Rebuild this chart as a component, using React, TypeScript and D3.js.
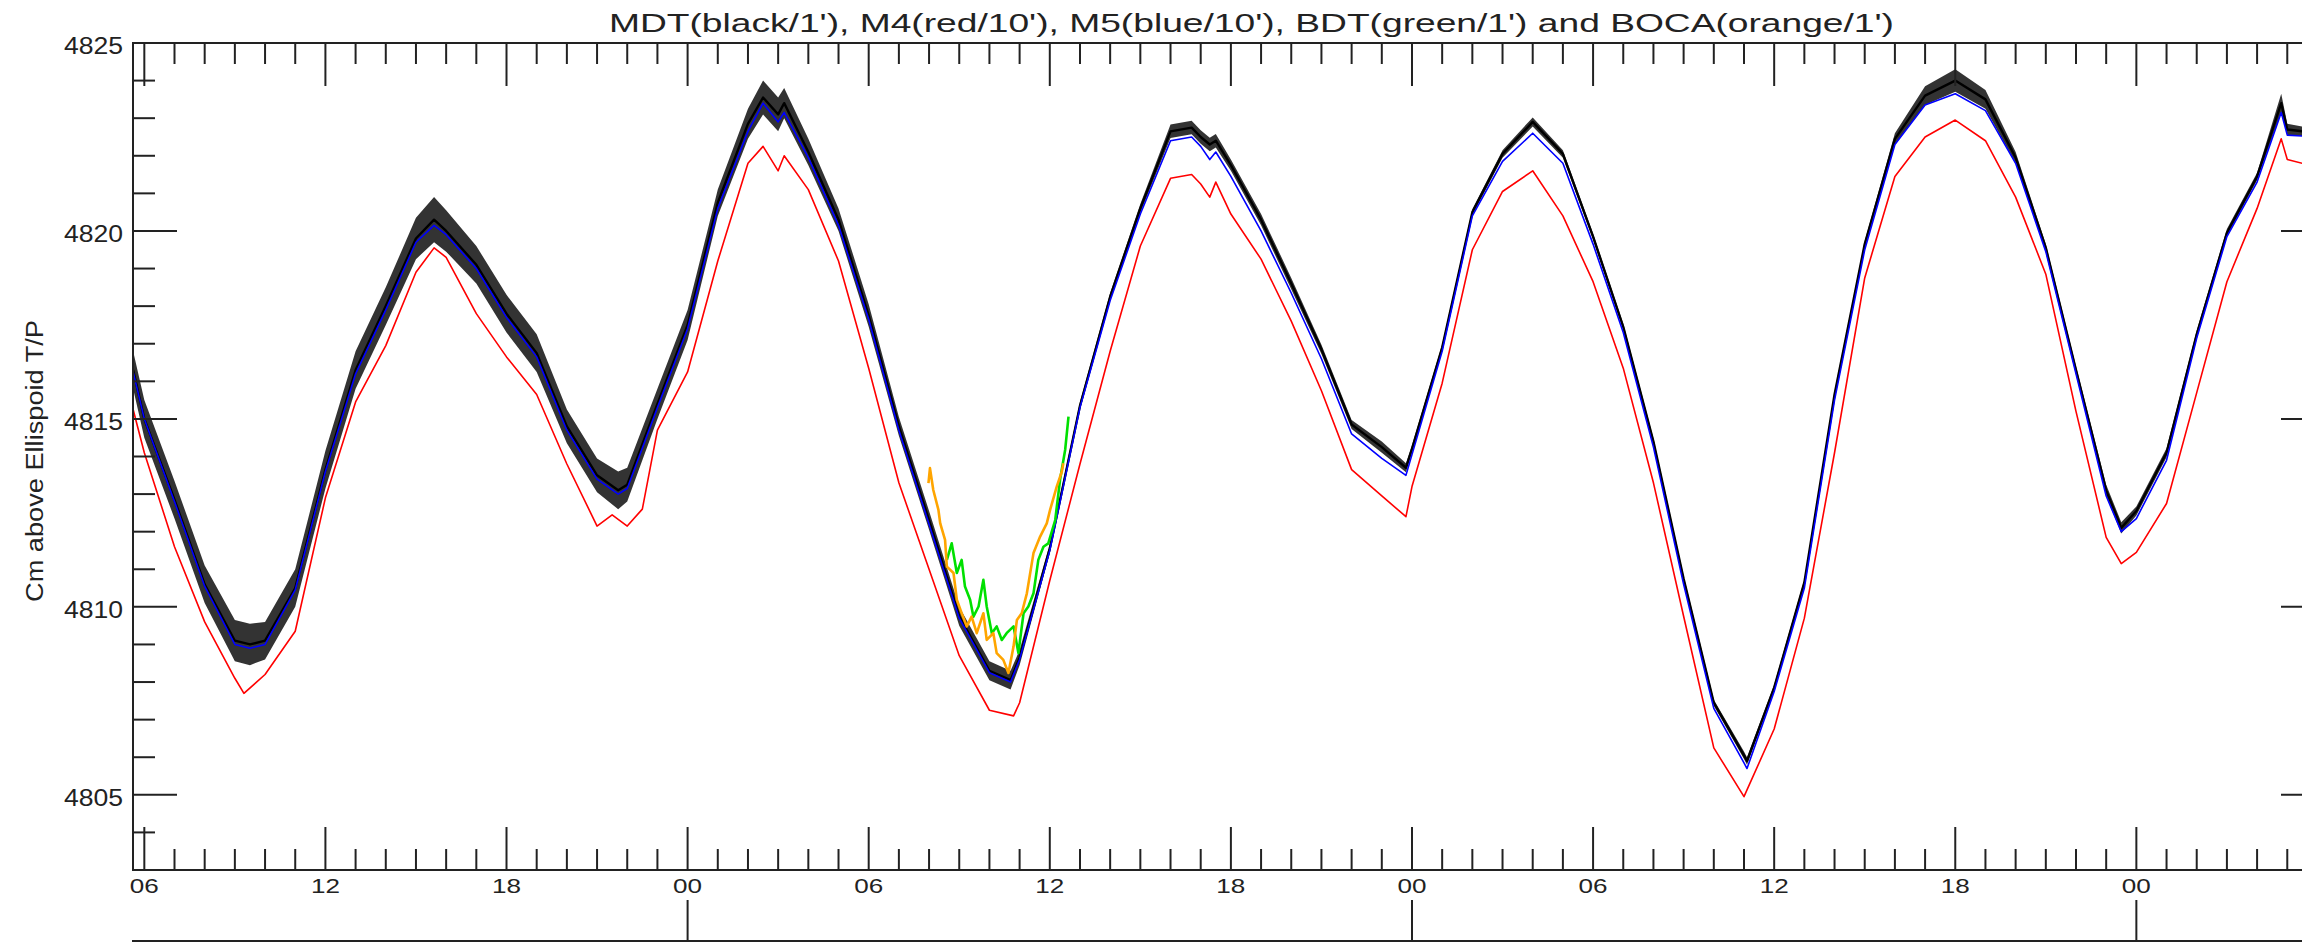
import * as d3 from "d3";

const WIDTH = 2302;
const HEIGHT = 943;
// the right frame sits just outside the picture, as in the source plot
const PLOT = { left: 133, top: 43, right: 2325, bottom: 870 };
const DAY_AXIS_Y = 941;

const TITLE = "MDT(black/1'), M4(red/10'), M5(blue/10'),  BDT(green/1') and BOCA(orange/1')";
const Y_TITLE = "Cm above Ellispoid T/P";
const Y_LABELS = [4805, 4810, 4815, 4820, 4825];
const LABELED_HOURS = [6, 12, 18, 24, 30, 36, 42, 48, 54, 60, 66, 72];

// time is in hours from 00:00 of the first day
const mdt: [number, number][] = [
  [5.63, 4816.3], [6, 4815.0], [7, 4812.85], [8, 4810.6], [9, 4809.1], [9.5, 4809.0], [10, 4809.1],
  [11, 4810.5], [12, 4813.65], [13, 4816.3], [14, 4818.0], [15, 4819.8], [15.6, 4820.3], [16, 4820.0],
  [17, 4819.1], [18, 4817.8], [19, 4816.75], [20, 4814.8], [21, 4813.5], [21.7, 4813.1], [22, 4813.25],
  [23, 4815.4], [24, 4817.5], [25, 4820.75], [26, 4822.85], [26.5, 4823.55], [27, 4823.1], [27.2, 4823.4],
  [28, 4822.1], [29, 4820.3], [30, 4817.75], [31, 4814.8], [32, 4812.3], [33, 4809.75], [34, 4808.3],
  [34.7, 4808.05], [35, 4808.65], [36, 4811.55], [37, 4815.35], [38, 4818.25], [39, 4820.6], [40, 4822.65],
  [40.7, 4822.75], [41, 4822.5], [41.3, 4822.3], [41.5, 4822.4], [42, 4821.75], [43, 4820.3], [44, 4818.6],
  [45, 4816.85], [46, 4814.85], [47, 4814.25], [47.8, 4813.7], [48, 4814.2], [49, 4816.9], [50, 4820.5],
  [51, 4822.05], [52, 4822.9], [53, 4822.05], [54, 4819.85], [55, 4817.45], [56, 4814.4], [57, 4810.75],
  [58, 4807.45], [59, 4806.05], [59.1, 4805.9], [60, 4807.85], [61, 4810.65], [62, 4815.65], [63, 4819.65],
  [64, 4822.45], [65, 4823.6], [66, 4824.0], [67, 4823.5], [68, 4821.95], [69, 4819.55], [70, 4816.3],
  [71, 4813.1], [71.5, 4812.1], [72, 4812.55], [73, 4814.1], [74, 4817.25], [75, 4819.95], [76, 4821.45],
  [76.8, 4823.4], [77, 4822.7], [78, 4822.6],
];

// half height of the 1' noise band around mdt, one value per mdt point
const mdtNoise = [
  0.5, 0.5, 0.5, 0.5, 0.55, 0.55, 0.5, 0.5, 0.5, 0.5, 0.5, 0.55, 0.6, 0.55, 0.5, 0.5, 0.5, 0.45, 0.45, 0.5,
  0.45, 0.4, 0.4, 0.35, 0.4, 0.45, 0.45, 0.4, 0.35, 0.3, 0.3, 0.25, 0.25, 0.25, 0.25, 0.25, 0.2, 0.12, 0.1,
  0.1, 0.12, 0.18, 0.18, 0.18, 0.18, 0.18, 0.15, 0.15, 0.15, 0.12, 0.12, 0.15, 0.12, 0.1, 0.08, 0.08, 0.1,
  0.12, 0.1, 0.08, 0.08, 0.08, 0.08, 0.08, 0.1, 0.1, 0.08, 0.08, 0.08, 0.08, 0.15, 0.25, 0.3, 0.25, 0.15,
  0.1, 0.1, 0.15, 0.15, 0.12, 0.12, 0.1, 0.1, 0.1, 0.25, 0.15, 0.1,
];

const m5: [number, number][] = [
  [5.63, 4816.25], [6, 4815.0], [7, 4812.8], [8, 4810.55], [9, 4809.0], [9.5, 4808.9], [10, 4809.0],
  [11, 4810.45], [12, 4813.6], [13, 4816.2], [14, 4817.9], [15, 4819.7], [15.6, 4820.15], [16, 4819.9],
  [17, 4819.0], [18, 4817.7], [19, 4816.65], [20, 4814.7], [21, 4813.4], [21.7, 4813.0], [22, 4813.15],
  [23, 4815.3], [24, 4817.4], [25, 4820.6], [26, 4822.65], [26.5, 4823.4], [27, 4822.9], [27.2, 4823.15],
  [28, 4821.95], [29, 4820.15], [30, 4817.65], [31, 4814.7], [32, 4812.2], [33, 4809.7], [34, 4808.25],
  [34.7, 4808.0], [35, 4808.6], [36, 4811.5], [37, 4815.3], [38, 4818.15], [39, 4820.45], [40, 4822.4],
  [40.7, 4822.5], [41, 4822.25], [41.3, 4821.9], [41.5, 4822.1], [42, 4821.45], [43, 4820.0], [44, 4818.35],
  [45, 4816.6], [46, 4814.6], [47, 4813.95], [47.8, 4813.5], [48, 4814.05], [49, 4816.8], [50, 4820.4],
  [51, 4821.85], [52, 4822.6], [53, 4821.8], [54, 4819.65], [55, 4817.3], [56, 4814.25], [57, 4810.6],
  [58, 4807.3], [59, 4805.85], [59.1, 4805.7], [60, 4807.75], [61, 4810.5], [62, 4815.5], [63, 4819.5],
  [64, 4822.3], [65, 4823.35], [66, 4823.65], [67, 4823.2], [68, 4821.8], [69, 4819.45], [70, 4816.2],
  [71, 4812.95], [71.5, 4812.0], [72, 4812.35], [73, 4813.9], [74, 4817.15], [75, 4819.85], [76, 4821.3],
  [76.8, 4823.15], [77, 4822.55], [78, 4822.5],
];

const m4: [number, number][] = [
  [5.63, 4815.25], [6, 4814.1], [7, 4811.6], [8, 4809.6], [9, 4808.1], [9.3, 4807.7], [10, 4808.2],
  [11, 4809.35], [12, 4812.9], [13, 4815.45], [14, 4816.95], [15, 4818.9], [15.6, 4819.55], [16, 4819.3],
  [17, 4817.8], [18, 4816.65], [19, 4815.65], [20, 4813.8], [21, 4812.15], [21.5, 4812.45], [22, 4812.15],
  [22.5, 4812.6], [23, 4814.7], [24, 4816.25], [25, 4819.2], [26, 4821.8], [26.5, 4822.25], [27, 4821.6],
  [27.2, 4822.0], [28, 4821.1], [29, 4819.2], [30, 4816.35], [31, 4813.3], [32, 4811.0], [33, 4808.7],
  [34, 4807.25], [34.8, 4807.1], [35, 4807.45], [36, 4810.7], [37, 4813.8], [38, 4816.8], [39, 4819.6],
  [40, 4821.4], [40.7, 4821.5], [41, 4821.25], [41.3, 4820.9], [41.5, 4821.3], [42, 4820.45], [43, 4819.25],
  [44, 4817.6], [45, 4815.75], [46, 4813.65], [47, 4812.95], [47.8, 4812.4], [48, 4813.2], [49, 4815.95],
  [50, 4819.5], [51, 4821.05], [52, 4821.6], [53, 4820.4], [54, 4818.65], [55, 4816.35], [56, 4813.3],
  [57, 4809.75], [58, 4806.25], [59, 4804.95], [60, 4806.75], [61, 4809.7], [62, 4814.1], [63, 4818.75],
  [64, 4821.45], [65, 4822.5], [66, 4822.95], [67, 4822.4], [68, 4820.9], [69, 4818.85], [70, 4815.2],
  [71, 4811.85], [71.5, 4811.15], [72, 4811.45], [73, 4812.75], [74, 4815.7], [75, 4818.65], [76, 4820.6],
  [76.8, 4822.45], [77, 4821.9], [78, 4821.7],
];

const bdt: [number, number][] = [
  [32.59, 4811.25], [32.75, 4811.69], [32.92, 4810.9], [33.08, 4811.25], [33.19, 4810.54], [33.36, 4810.19],
  [33.47, 4809.74], [33.64, 4810.01], [33.8, 4810.72], [33.91, 4810.01], [34.08, 4809.3], [34.24, 4809.48],
  [34.41, 4809.12], [34.57, 4809.3], [34.8, 4809.48], [34.96, 4808.77], [35.13, 4809.83], [35.29, 4810.01],
  [35.46, 4810.36], [35.62, 4811.25], [35.79, 4811.6], [35.95, 4811.69], [36.18, 4812.31], [36.34, 4813.38],
  [36.51, 4814.18], [36.62, 4815.06],
];

const boca: [number, number][] = [
  [31.98, 4813.29], [32.03, 4813.69], [32.14, 4813.11], [32.31, 4812.58], [32.37, 4812.22], [32.53, 4811.78],
  [32.59, 4811.07], [32.81, 4810.9], [32.92, 4810.19], [33.08, 4809.83], [33.25, 4809.48], [33.41, 4809.74],
  [33.58, 4809.3], [33.8, 4809.83], [33.91, 4809.12], [34.13, 4809.3], [34.24, 4808.77], [34.46, 4808.59],
  [34.63, 4808.24], [34.8, 4808.95], [34.91, 4809.65], [35.07, 4809.83], [35.24, 4810.36], [35.46, 4811.43],
  [35.68, 4811.87], [35.9, 4812.22], [36.01, 4812.58], [36.23, 4813.2], [36.4, 4813.6], [36.45, 4813.82],
];

const FONT = "'Liberation Sans', Arial, sans-serif";
const INK = "#222";

export default function App() {
  const x = d3.scaleLinear().domain([5.625, 78.25]).range([PLOT.left, PLOT.right]);
  const y = d3.scaleLinear().domain([4803, 4825]).range([PLOT.bottom, PLOT.top]);

  const line = d3
    .line<[number, number]>()
    .x((d) => x(d[0]))
    .y((d) => y(d[1]));

  const band = d3
    .area<[number, number]>()
    .x((d) => x(d[0]))
    .y0((d, i) => y(d[1] - mdtNoise[i]))
    .y1((d, i) => y(d[1] + mdtNoise[i]));

  const hours = d3.range(6, 79);
  const cms = d3.range(4803, 4826);
  const midnights = hours.filter((h) => h % 24 === 0);

  return (
    <div style={{ position: "absolute", left: 0, top: 0 }}>
      <svg width={WIDTH} height={HEIGHT} style={{ display: "block", background: "#fff" }}>
        <defs>
          <clipPath id="plotClip">
            <rect x={PLOT.left} y={PLOT.top} width={PLOT.right - PLOT.left} height={PLOT.bottom - PLOT.top} />
          </clipPath>
        </defs>

        <text x={609} y={32} fontFamily={FONT} fontSize={26} fill={INK} textLength={1285} lengthAdjust="spacingAndGlyphs">
          {TITLE}
        </text>

        {/* series */}
        <g clipPath="url(#plotClip)" fill="none" strokeLinejoin="round">
          <path d={band(mdt) ?? ""} fill="#000" fillOpacity={0.8} stroke="none" />
          <path d={line(mdt) ?? ""} stroke="#000" strokeWidth={2.4} />
          <path d={line(m4) ?? ""} stroke="#ff0000" strokeWidth={1.6} />
          <path d={line(m5) ?? ""} stroke="#0000ff" strokeWidth={1.6} />
          <path d={line(bdt) ?? ""} stroke="#00e000" strokeWidth={2.6} />
          <path d={line(boca) ?? ""} stroke="#ffa500" strokeWidth={2.6} />
        </g>

        {/* frame */}
        <g stroke={INK} strokeWidth={2} fill="none">
          <rect x={PLOT.left} y={PLOT.top} width={PLOT.right - PLOT.left} height={PLOT.bottom - PLOT.top} />
          {hours.map((h) => {
            const len = h % 6 === 0 ? 43 : 21;
            return (
              <g key={h}>
                <line x1={x(h)} x2={x(h)} y1={PLOT.bottom} y2={PLOT.bottom - len} />
                <line x1={x(h)} x2={x(h)} y1={PLOT.top} y2={PLOT.top + len} />
              </g>
            );
          })}
          {cms.map((c) => {
            const len = c % 5 === 0 ? 44 : 22;
            return (
              <g key={c}>
                <line x1={PLOT.left} x2={PLOT.left + len} y1={y(c)} y2={y(c)} />
                <line x1={PLOT.right} x2={PLOT.right - len} y1={y(c)} y2={y(c)} />
              </g>
            );
          })}
          <line x1={PLOT.left - 1} x2={WIDTH + 30} y1={DAY_AXIS_Y} y2={DAY_AXIS_Y} />
          {midnights.map((h) => (
            <line key={h} x1={x(h)} x2={x(h)} y1={DAY_AXIS_Y} y2={DAY_AXIS_Y - 41} />
          ))}
        </g>

        {/* labels */}
        <g fontFamily={FONT} fill={INK}>
          {LABELED_HOURS.map((h) => (
            <text key={h} x={x(h) - 14.5} y={893} fontSize={21} textLength={29} lengthAdjust="spacingAndGlyphs">
              {String(h % 24).padStart(2, "0")}
            </text>
          ))}
          {Y_LABELS.map((v) => (
            <text key={v} x={64} y={y(v) + 11} fontSize={23} textLength={59} lengthAdjust="spacingAndGlyphs">
              {v}
            </text>
          ))}
          <text
            transform={`translate(43, 461) rotate(-90)`}
            textAnchor="middle"
            fontSize={23}
            textLength={282}
            lengthAdjust="spacingAndGlyphs"
          >
            {Y_TITLE}
          </text>
        </g>
      </svg>
    </div>
  );
}
